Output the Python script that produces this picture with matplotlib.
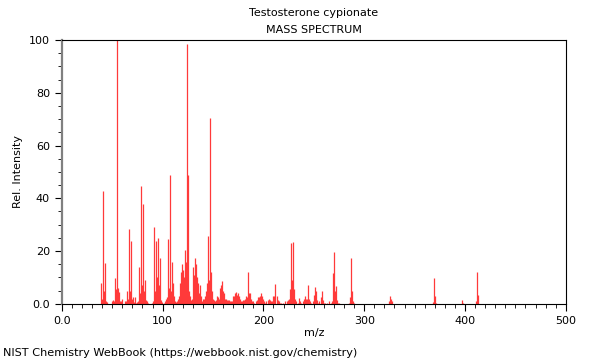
import matplotlib
matplotlib.use('Agg')
import matplotlib.pyplot as plt
from matplotlib.ticker import MultipleLocator

TITLE = "Testosterone cypionate"
SUBTITLE = "MASS SPECTRUM"
CREDIT = "NIST Chemistry WebBook (https://webbook.nist.gov/chemistry)"

# (m/z, relative intensity), split by mass range
PEAKS_39_99 = [
    (39, 8), (40, 2), (41, 42.6), (42, 5), (43, 15.5), (44, 1), (45, 0.8),
    (50, 1), (51, 1.5), (52, 1), (53, 9.8), (54, 5.5), (55, 100), (56, 6),
    (57, 4.5), (58, 1), (59, 1), (60, 2), (63, 1), (64, 1), (65, 5), (66, 2),
    (67, 28.2), (68, 5), (69, 24), (70, 2), (71, 2.5), (72, 0.8), (73, 2.5),
    (74, 0.5), (75, 0.8), (76, 1), (77, 14), (78, 4), (79, 44.7), (80, 7),
    (81, 37.8), (82, 5), (83, 9), (84, 1.5), (85, 1), (86, 0.5), (89, 0.5),
    (90, 1), (91, 29), (92, 5), (93, 24), (94, 10), (95, 25), (96, 7),
    (97, 17.5), (98, 1.5), (99, 0.8),
]
PEAKS_100_160 = [
    (101, 0.5), (102, 1), (103, 2), (104, 2.5), (105, 24.5), (106, 6),
    (107, 49), (108, 5), (109, 16), (110, 8), (111, 3), (112, 1), (113, 0.8),
    (114, 1), (115, 2), (116, 3), (117, 8), (118, 12), (119, 15), (120, 13),
    (121, 10), (122, 20.4), (123, 16), (124, 98.5), (125, 49), (126, 5),
    (127, 3), (128, 1.5), (129, 2), (130, 14), (131, 11), (132, 17.4),
    (133, 15), (134, 10), (135, 8), (136, 4), (137, 7), (138, 3), (139, 1),
    (140, 2), (141, 2), (142, 3), (143, 5), (144, 8), (145, 25.7), (146, 9),
    (147, 70.5), (148, 12), (149, 5), (150, 2), (151, 1.5), (152, 1),
    (153, 1.5), (154, 3), (155, 2.5), (156, 2), (157, 6), (158, 7),
    (159, 8.5), (160, 5),
]
PEAKS_161_260 = [
    (161, 4), (162, 2), (163, 2), (164, 1.5), (165, 1.5), (166, 1.5),
    (167, 1), (168, 1), (169, 1), (170, 3), (171, 3), (172, 4), (173, 4.5),
    (174, 3.5), (175, 4), (176, 3), (177, 2), (178, 1), (179, 1), (180, 1.5),
    (181, 1.5), (182, 2), (183, 3), (184, 2.5), (185, 12.2), (186, 4),
    (187, 4), (188, 2), (189, 1), (190, 1), (191, 0.5), (193, 1), (194, 1.5),
    (195, 2.5), (196, 2.5), (197, 3), (198, 4), (199, 3), (200, 2), (201, 1),
    (202, 0.5), (203, 1), (205, 1.5), (206, 2), (207, 1.5), (208, 1),
    (209, 1), (210, 3), (211, 3), (212, 7.5), (213, 3), (214, 1.5), (215, 1),
    (216, 0.5), (217, 0.5), (219, 0.5), (221, 1), (223, 1), (224, 1.5),
    (225, 2), (226, 5.7), (227, 23), (228, 9), (229, 23.5), (230, 5.7),
    (231, 2), (232, 1), (234, 0.5), (235, 2.4), (236, 1), (237, 0.5),
    (239, 1), (240, 2), (241, 3), (242, 2), (243, 2), (244, 7), (245, 2),
    (246, 1), (247, 0.5), (249, 1), (250, 3.5), (251, 6.3), (252, 5),
    (253, 1.5), (254, 0.5), (255, 1), (257, 2.5), (258, 5), (259, 1.5),
    (260, 0.5),
]
PEAKS_261_413 = [
    (261, 0.5), (263, 0.5), (265, 1), (267, 0.5), (268, 1), (269, 11.6),
    (270, 19.8), (271, 5), (272, 6.8), (273, 1.5), (274, 0.5), (275, 0.5),
    (285, 0.5), (286, 2.5), (287, 17.5), (288, 5), (289, 1), (290, 0.5),
    (325, 1), (326, 2.8), (327, 2), (328, 1), (368, 0.8), (369, 9.7),
    (370, 3), (371, 0.5), (397, 1.5), (398, 0.5), (411, 1), (412, 12),
    (413, 3.5),
]

peaks = PEAKS_39_99 + PEAKS_100_160 + PEAKS_161_260 + PEAKS_261_413
mz = [p[0] for p in peaks]
intensity = [p[1] for p in peaks]

fig = plt.figure(figsize=(6.0, 3.6), dpi=100)
ax = fig.add_axes([0.103, 0.156, 0.840, 0.733])

ax.vlines(mz, 0, intensity, color='#ff3a3a', linewidth=0.9)

ax.set_xlim(0, 500)
ax.set_ylim(0, 100)
ax.xaxis.set_major_locator(MultipleLocator(100))
ax.xaxis.set_minor_locator(MultipleLocator(10))
ax.yaxis.set_major_locator(MultipleLocator(20))
ax.yaxis.set_minor_locator(MultipleLocator(5))
ax.xaxis.set_major_formatter(lambda v, pos: '0.0' if v == 0 else f'{v:.0f}')
ax.yaxis.set_major_formatter(lambda v, pos: '0.0' if v == 0 else f'{v:.0f}')
ax.tick_params(which='major', length=5, width=0.8, labelsize=8, direction='out')
ax.tick_params(which='minor', length=3, width=0.6, direction='out')

for side in ('top', 'right', 'bottom'):
    ax.spines[side].set_linewidth(0.8)
ax.spines['left'].set_color('#808080')
ax.spines['left'].set_linewidth(1.6)

ax.set_xlabel('m/z', fontsize=8, labelpad=2)
ax.set_ylabel('Rel. Intensity', fontsize=8, labelpad=4)

fig.text(0.523, 0.963, TITLE, ha='center', va='center', fontsize=8)
fig.text(0.523, 0.916, SUBTITLE, ha='center', va='center', fontsize=8)
fig.text(0.005, 0.020, CREDIT, ha='left', va='center', fontsize=8.15)

fig.savefig('out.png', dpi=100)
